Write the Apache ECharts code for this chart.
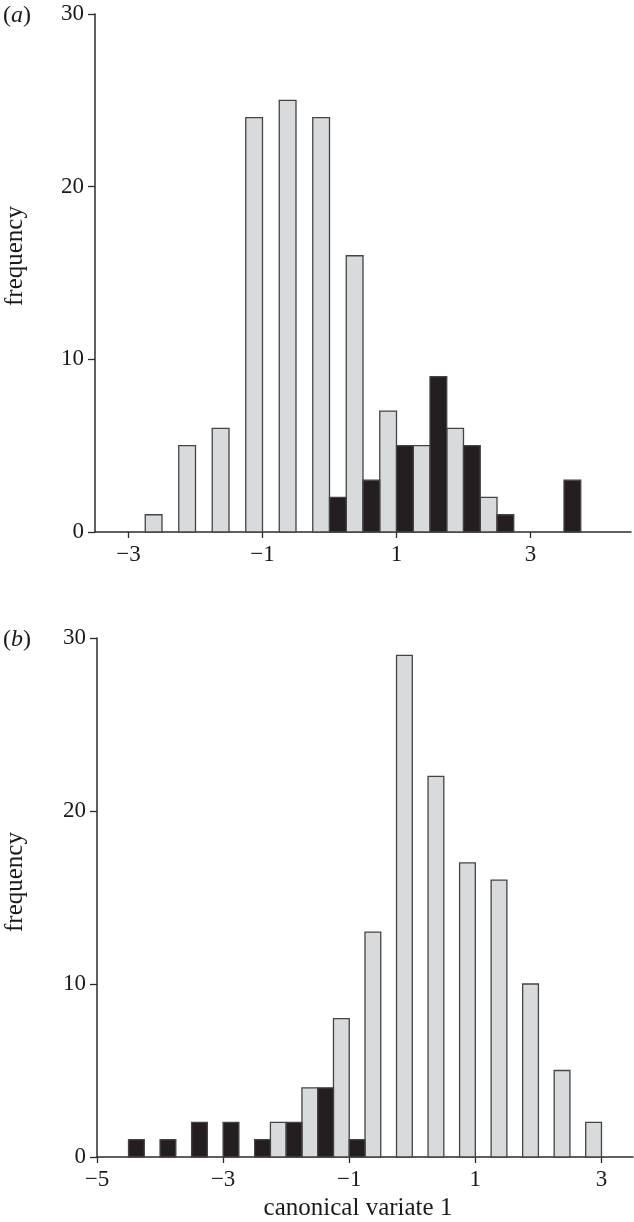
<!DOCTYPE html>
<html>
<head>
<meta charset="utf-8">
<script src="https://cdn.jsdelivr.net/npm/echarts@6/dist/echarts.min.js"></script>
<style>
  html, body { margin: 0; padding: 0; background: #fff; }
  #main { width: 634px; height: 1222px; }
</style>
</head>
<body>
<div id="main"></div>
<script>
// panel (a): bin centres, counts for the two groups
const binsA = [-2.5, -2, -1.5, -1, -0.5, 0, 0.5, 1, 1.5, 2, 2.5, 3, 3.5];
const grayA = [1, 5, 6, 24, 25, 24, 16, 7, 5, 6, 2, 0, 0];
const blackA = [0, 0, 0, 0, 0, 2, 3, 5, 9, 5, 1, 0, 3];

// panel (b)
const binsB = [-4.5, -4, -3.5, -3, -2.5, -2, -1.5, -1, -0.5, 0, 0.5, 1, 1.5, 2, 2.5, 3];
const grayB = [0, 0, 0, 0, 0, 2, 4, 8, 13, 29, 22, 17, 16, 10, 5, 2];
const blackB = [1, 1, 2, 2, 1, 2, 4, 1, 0, 0, 0, 0, 0, 0, 0, 0];

const binWidth = 0.5;
const xTicksA = [-3, -1, 1, 3];
const xTicksB = [-5, -3, -1, 1, 3];
const yTicks = [0, 10, 20, 30];

const FONT = "Liberation Serif, Times New Roman, Times, serif";
const INK = "#2b2b2b";

function fmt(v) {
  return v < 0 ? "\u2212" + Math.abs(v) : String(v);
}

function pairs(bins, vals) {
  return bins.map(function (b, i) { return [b, vals[i]]; });
}

// side -1 -> left half of the bin, +1 -> right half
function halfBar(side, fill) {
  return function (params, api) {
    var c = api.value(0), v = api.value(1);
    if (!v) return null;
    var x0 = side < 0 ? c - binWidth / 2 : c;
    var p0 = api.coord([x0, v]);
    var p1 = api.coord([x0 + binWidth / 2, 0]);
    return {
      type: "rect",
      shape: { x: p0[0], y: p0[1], width: p1[0] - p0[0], height: p1[1] - p0[1] },
      style: { fill: fill, stroke: "#444", lineWidth: 1.3 },
    };
  };
}

function xAxisCfg(idx, min, max, ticks) {
  return {
    type: "value", gridIndex: idx, min: min, max: max,
    axisLine: { show: true, onZero: false, lineStyle: { color: INK, width: 1.5 } },
    axisTick: { show: true, length: 6, customValues: ticks, lineStyle: { color: INK, width: 1.3 } },
    axisLabel: { customValues: ticks, formatter: fmt, margin: 11, fontFamily: FONT, fontSize: 23, color: "#1a1a1a" },
    splitLine: { show: false },
  };
}

function yAxisCfg(idx) {
  return {
    type: "value", gridIndex: idx, min: 0, max: 30,
    axisLine: { show: true, onZero: false, lineStyle: { color: INK, width: 1.5 } },
    axisTick: { show: true, length: 7, customValues: yTicks, lineStyle: { color: INK, width: 1.3 } },
    axisLabel: { customValues: yTicks, margin: 11, fontFamily: FONT, fontSize: 23, color: "#1a1a1a" },
    splitLine: { show: false },
  };
}

function txt(x, y, text, rot) {
  return {
    type: "text", x: x, y: y, rotation: rot || 0,
    style: { text: text, font: "25px " + FONT, fill: "#1a1a1a", align: "center", verticalAlign: "middle" },
  };
}

function panelLabel(y, letter) {
  return {
    type: "text", x: 3, y: y,
    style: {
      text: "(" + "{i|" + letter + "})",
      font: "24px " + FONT, fill: "#1a1a1a", verticalAlign: "middle",
      rich: { i: { fontStyle: "italic", fontFamily: FONT, fontSize: 24 } },
    },
  };
}

var chart = echarts.init(document.getElementById("main"), null, { renderer: "canvas" });

chart.setOption({
  animation: false,
  backgroundColor: "#fff",
  grid: [
    { left: 95, top: 14, width: 536, height: 518 },
    { left: 97, top: 638, width: 536, height: 519 },
  ],
  xAxis: [xAxisCfg(0, -3.5, 4.5, xTicksA), xAxisCfg(1, -5, 3.5, xTicksB)],
  yAxis: [yAxisCfg(0), yAxisCfg(1)],
  series: [
    { type: "custom", xAxisIndex: 0, yAxisIndex: 0, renderItem: halfBar(-1, "#d9dadc"), data: pairs(binsA, grayA), encode: { x: 0, y: 1 } },
    { type: "custom", xAxisIndex: 0, yAxisIndex: 0, renderItem: halfBar(1, "#231f20"), data: pairs(binsA, blackA), encode: { x: 0, y: 1 } },
    { type: "custom", xAxisIndex: 1, yAxisIndex: 1, renderItem: halfBar(-1, "#d9dadc"), data: pairs(binsB, grayB), encode: { x: 0, y: 1 } },
    { type: "custom", xAxisIndex: 1, yAxisIndex: 1, renderItem: halfBar(1, "#231f20"), data: pairs(binsB, blackB), encode: { x: 0, y: 1 } },
  ],
  graphic: [
    panelLabel(16, "a"),
    panelLabel(640, "b"),
    txt(15, 256, "frequency", Math.PI / 2),
    txt(15, 882, "frequency", Math.PI / 2),
    txt(358, 1208, "canonical variate 1"),
  ],
});
</script>
</body>
</html>
